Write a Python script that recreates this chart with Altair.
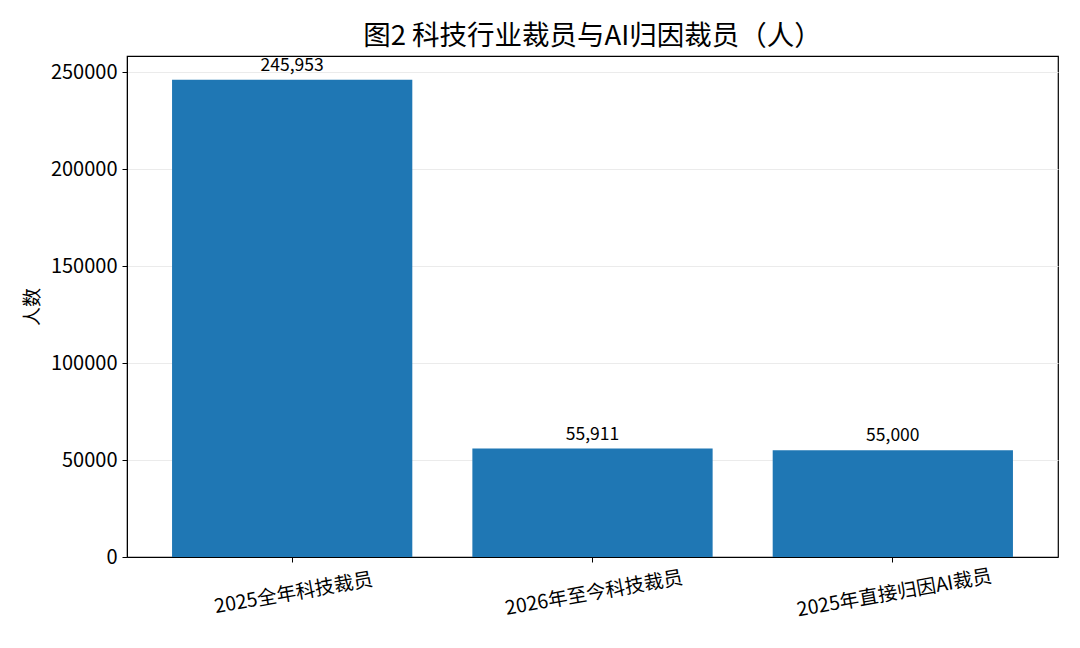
import altair as alt
import pandas as pd

categories = ["2025全年科技裁员", "2026年至今科技裁员", "2025年直接归因AI裁员"]
values = [245953, 55911, 55000]
value_labels = ["245,953", "55,911", "55,000"]

df = pd.DataFrame({"cat": categories, "val": values, "lab": value_labels})

FONT = "Noto Sans CJK SC"

x = alt.X("cat:N", sort=categories, title=None,
          scale=alt.Scale(paddingInner=0.2, paddingOuter=0.15),
          axis=alt.Axis(labelAngle=350, labelFontSize=19.5, labelColor="black",
                        labelFont=FONT, tickColor="black", tickSize=5,
                        domainColor="black", labelPadding=22, labelAlign="center",
                        labelBaseline="top", labelLimit=500, grid=False))
y = alt.Y("val:Q", title="人数",
          scale=alt.Scale(domain=[0, 258250], nice=False, zero=True),
          axis=alt.Axis(values=[0, 50000, 100000, 150000, 200000, 250000],
                        format="d", labelFontSize=20, labelColor="black",
                        labelFont=FONT, tickColor="black", tickSize=5,
                        domainColor="black", gridColor="#ebebeb", gridWidth=1,
                        titleFont=FONT, titleFontSize=19, titleFontWeight="normal",
                        titleColor="black", titlePadding=8, labelPadding=5))

bars = alt.Chart(df).mark_bar(color="#1f77b4").encode(x=x, y=y)
text = alt.Chart(df).mark_text(dy=-5, baseline="bottom", fontSize=17.5, font=FONT,
                               color="black").encode(
    x=alt.X("cat:N", sort=categories), y="val:Q", text="lab:N")

chart = (bars + text).properties(
    width=931, height=501,
    background="white",
    title=alt.TitleParams("图2 科技行业裁员与AI归因裁员（人）", font=FONT, fontSize=27.5,
                          fontWeight="normal", color="black", offset=6),
    autosize=alt.AutoSizeParams(type="none"),
    padding={"left": 119, "top": 48, "right": 14, "bottom": 83},
).configure_view(stroke="black", strokeWidth=1.2)

chart.save("out.html", embed_options={"renderer": "svg", "actions": False})
